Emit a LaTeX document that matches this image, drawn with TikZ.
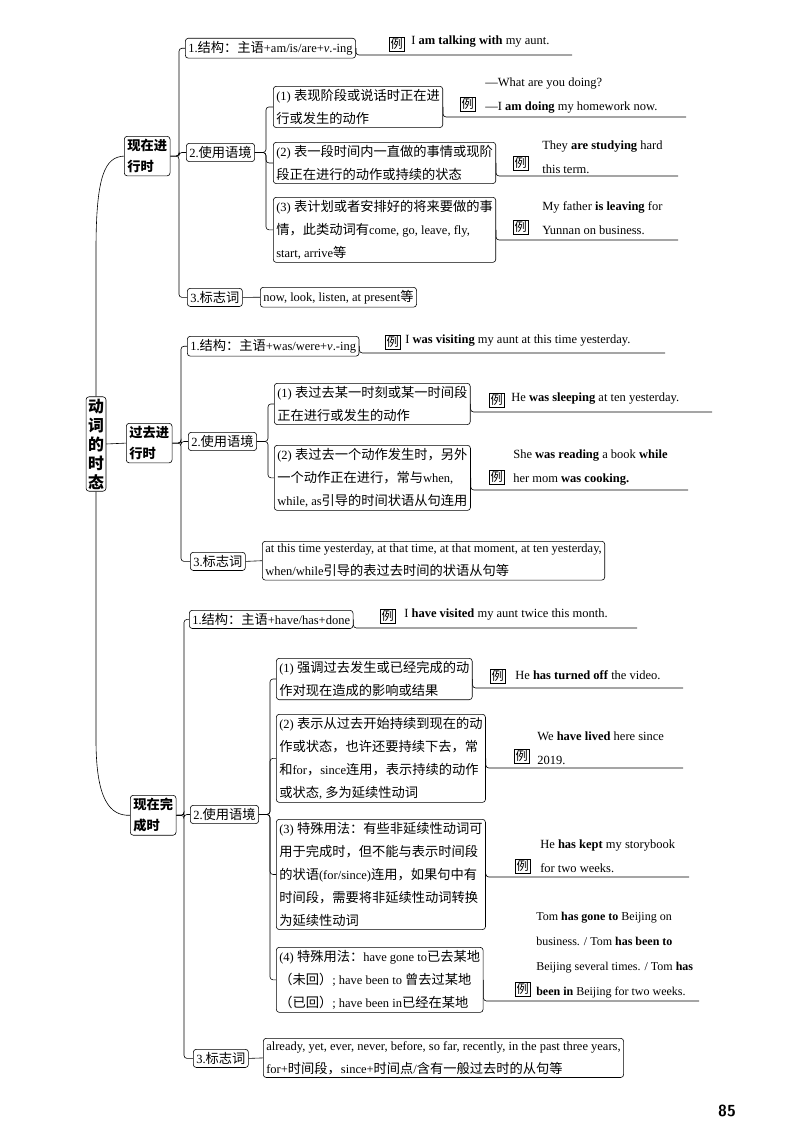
\documentclass[tikz,border=0pt]{standalone}
\usepackage{fontspec}
\setmainfont{Liberation Serif}
\newfontfamily\cjk[Scale=1.06]{Noto Sans CJK SC}
\XeTeXinterchartokenstate=1
\newXeTeXintercharclass\cjkclass
\count255="4E00 \loop \XeTeXcharclass\count255=\cjkclass \advance\count255 by 1 \ifnum\count255<"A000 \repeat
\count255="FF00 \loop \XeTeXcharclass\count255=\cjkclass \advance\count255 by 1 \ifnum\count255<"FFF0 \repeat
\count255="3000 \loop \XeTeXcharclass\count255=\cjkclass \advance\count255 by 1 \ifnum\count255<"3040 \repeat
\XeTeXinterchartoks 0 \cjkclass = {\cjk}
\XeTeXinterchartoks 4095 \cjkclass = {\cjk}
\XeTeXinterchartoks \cjkclass 0 = {\rmfamily}
\begin{document}
\begin{tikzpicture}[x=1pt,y=-1pt,line width=0.6pt,
  box/.style={draw,rounded corners=3pt,inner sep=3pt,align=left,font=\fontsize{12.5}{23}\selectfont,anchor=north west},
  tense/.style={box,font=\fontsize{12.5}{21}\selectfont\bfseries},
  lbox/.style={draw,inner sep=1.2pt,font=\fontsize{11.5}{12}\selectfont,anchor=west},
  ex/.style={anchor=west,align=left,inner sep=1pt,font=\fontsize{12.5}{24}\selectfont},
  conn/.style={rounded corners=3pt}]
\useasboundingbox (0,0) rectangle (800,1132);
\coordinate (ka) at (179,0); \coordinate (kb) at (266,0);
\coordinate (kc) at (181,0); \coordinate (kd) at (268,0);
\coordinate (kf) at (184,0); \coordinate (ke) at (270,0);
% root
\node[box,font=\fontsize{15}{19}\selectfont\bfseries,anchor=center,inner sep=2pt] (root) at (96,444) {动\\词\\的\\时\\态};
% tenses
\node[tense] (t1) at (124,136) {现在进\\行时};
\node[tense] (t2) at (126,423) {过去进\\行时};
\node[tense] (t3) at (130,795) {现在完\\成时};
\draw (root.north) -- (96,250) .. controls (96,175) and (105,157) .. (t1.west);
\draw (root.south) -- (96,740) .. controls (96,800) and (110,816) .. (t3.west);
\draw (root.east) -- (t2.west);

% ===== tense 1
\node[box] (a1) at (185,38) {1.结构：主语+am/is/are+\textit{v}.-ing};
\node[box] (a2) at (186,143) {2.使用语境};
\node[box] (a3) at (187,288) {3.标志词};
\foreach \c in {a1,a2,a3} \draw[conn] (t1.east) -- (t1.east -| ka) |- (\c.west);
\node[box] (a21) at (273,86) {(1) 表现阶段或说话时正在进\\行或发生的动作};
\node[box] (a22) at (273,142) {(2) 表一段时间内一直做的事情或现阶\\段正在进行的动作或持续的状态};
\node[box] (a23) at (273,197) {(3) 表计划或者安排好的将来要做的事\\情，此类动词有come, go, leave, fly,\\start, arrive等};
\foreach \c in {a21,a22,a23} \draw[conn] (a2.east) -- (a2.east -| kb) |- (\c.west);
\node[box] (a31) at (260,287) {now, look, listen, at present等};
\draw (a3.east) -- (a31.west);
% examples
\node[lbox] (e1) at (389,44) {例};
\node[ex] at (410,42) {I \textbf{am talking with} my aunt.};
\coordinate (u1) at (572,55); \draw[conn] (a1.east) |- (u1);
\node[lbox] (e2) at (460,104) {例};
\node[ex] at (484,96) {—What are you doing?\\—I \textbf{am doing} my homework now.};
\coordinate (u2) at (686,117); \draw[conn] (a21.east) |- (u2);
\node[lbox] (e3) at (513,163) {例};
\node[ex] at (541,157) {They \textbf{are studying} hard\\this term.};
\coordinate (u3) at (678,176); \draw[conn] (a22.east) |- (u3);
\node[lbox] (e4) at (513,227) {例};
\node[ex] at (541,218) {My father \textbf{is leaving} for\\Yunnan on business.};
\coordinate (u4) at (678,240); \draw[conn] (a23.east) |- (u4);

% ===== tense 2
\node[box] (b1) at (187,336) {1.结构：主语+was/were+\textit{v}.-ing};
\node[box] (b2) at (188,432) {2.使用语境};
\node[box] (b3) at (190,552) {3.标志词};
\foreach \c in {b1,b2,b3} \draw[conn] (t2.east) -- (t2.east -| kc) |- (\c.west);
\node[box] (b21) at (274,383) {(1) 表过去某一时刻或某一时间段\\正在进行或发生的动作};
\node[box] (b22) at (274,445) {(2) 表过去一个动作发生时，另外\\一个动作正在进行，常与when,\\while, as引导的时间状语从句连用};
\foreach \c in {b21,b22} \draw[conn] (b2.east) -- (b2.east -| kd) |- (\c.west);
\node[box] (b31) at (262,541) {at this time yesterday, at that time, at that moment, at ten yesterday,\\when/while引导的表过去时间的状语从句等};
\draw (b3.east) -- (b31.west);
\node[lbox] (f1) at (385,342) {例};
\node[ex] at (404,341) {I \textbf{was visiting} my aunt at this time yesterday.};
\coordinate (v1) at (665,353); \draw[conn] (b1.east) |- (v1);
\node[lbox] (f2) at (489,400) {例};
\node[ex] at (510,399) {He \textbf{was sleeping} at ten yesterday.};
\coordinate (v2) at (712,412); \draw[conn] (b21.east) |- (v2);
\node[lbox] (f3) at (489,477) {例};
\node[ex] at (512,468) {She \textbf{was reading} a book \textbf{while}\\her mom \textbf{was cooking.}};
\coordinate (v3) at (688,490); \draw[conn] (b22.east) |- (v3);

% ===== tense 3
\node[box] (c1) at (189,610) {1.结构：主语+have/has+done};
\node[box] (c2) at (190,805) {2.使用语境};
\node[box] (c3) at (193,1049) {3.标志词};
\foreach \c in {c1,c2,c3} \draw[conn] (t3.east) -- (t3.east -| kf) |- (\c.west);
\node[box] (c21) at (276,658) {(1) 强调过去发生或已经完成的动\\作对现在造成的影响或结果};
\node[box] (c22) at (276,714) {(2) 表示从过去开始持续到现在的动\\作或状态，也许还要持续下去，常\\和for，since连用，表示持续的动作\\或状态, 多为延续性动词};
\node[box] (c23) at (276,819) {(3) 特殊用法：有些非延续性动词可\\用于完成时，但不能与表示时间段\\的状语(for/since)连用，如果句中有\\时间段，需要将非延续性动词转换\\为延续性动词};
\node[box] (c24) at (276,947) {(4) 特殊用法：have gone to已去某地\\（未回）; have been to 曾去过某地\\（已回）; have been in已经在某地};
\foreach \c in {c21,c22,c23,c24} \draw[conn] (c2.east) -- (c2.east -| ke) |- (\c.west);
\node[box] (c31) at (263,1038) {already, yet, ever, never, before, so far, recently, in the past three years,\\for+时间段，since+时间点/含有一般过去时的从句等};
\draw (c3.east) -- (c31.west);
\node[lbox] (g1) at (380,616) {例};
\node[ex] at (403,615) {I \textbf{have visited} my aunt twice this month.};
\coordinate (w1) at (637,628); \draw[conn] (c1.east) |- (w1);
\node[lbox] (g2) at (490,676) {例};
\node[ex] at (514,675) {He \textbf{has turned off} the video.};
\coordinate (w2) at (683,688); \draw[conn] (c21.east) |- (w2);
\node[lbox] (g3) at (514,756) {例};
\node[ex] at (536,748) {We \textbf{have lived} here since\\2019.};
\coordinate (w3) at (683,768); \draw[conn] (c22.east) |- (w3);
\node[lbox] (g4) at (515,866) {例};
\node[ex] at (539,856) {He \textbf{has kept} my storybook\\for two weeks.};
\coordinate (w4) at (689,877); \draw[conn] (c23.east) |- (w4);
\node[lbox] (g5) at (515,989) {例};
\node[ex,font=\fontsize{12}{25}\selectfont] at (535,955) {Tom \textbf{has gone to} Beijing on\\business. / Tom \textbf{has been to}\\Beijing several times. / Tom \textbf{has}\\\textbf{been in} Beijing for two weeks.};
\coordinate (w5) at (699,1001); \draw[conn] (c24.east) |- (w5);

\node[font=\sffamily\bfseries\fontsize{16}{16}\selectfont] (pg) at (727,1111) {85};
\end{tikzpicture}
\end{document}
